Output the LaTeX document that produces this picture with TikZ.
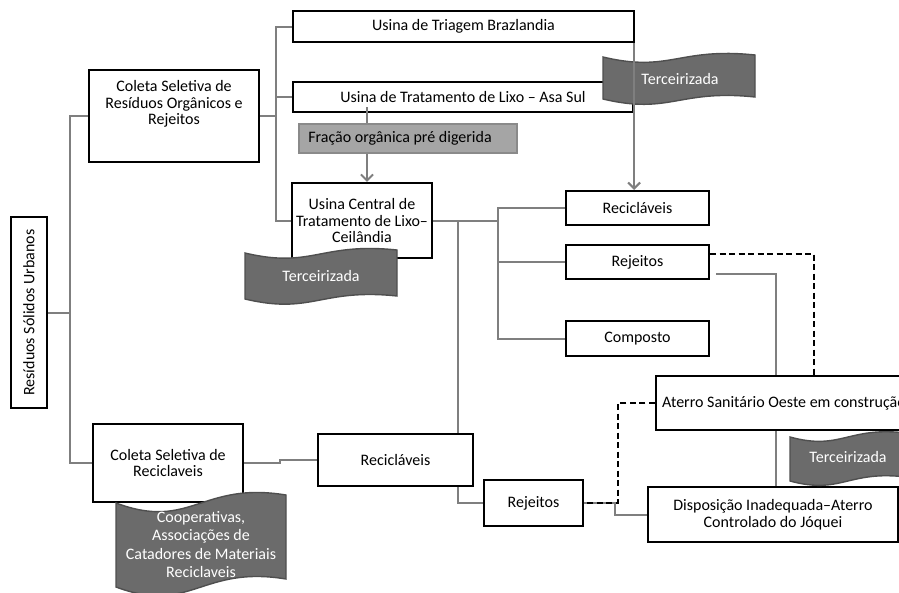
\documentclass[tikz,border=0pt]{standalone}
\usepackage{fontspec}
\usepackage{graphicx}
\setmainfont{Carlito}
\usetikzlibrary{arrows.meta,backgrounds,calc}
\definecolor{conngray}{HTML}{7F7F7F}
\definecolor{bannerfill}{HTML}{6B6B6B}
\definecolor{bannerline}{HTML}{4F4F4F}
\definecolor{fracfill}{HTML}{A5A5A5}
\definecolor{fracline}{HTML}{8A8A8A}
\newcommand\mainfnt{\fontsize{16}{16.5}\selectfont}
% x0, x1, y top-left, y top-right, height, bend
\newcommand{\wavebanner}[6]{%
  \pgfmathsetmacro\wA{#1+0.44*(#2-#1)}%
  \pgfmathsetmacro\wB{#1+0.5*(#2-#1)}%
  \pgfmathsetmacro\cTa{#3+#6}%
  \pgfmathsetmacro\cTb{#4-0.5*#6}%
  \pgfmathsetmacro\yRB{#4+#5}%
  \pgfmathsetmacro\yLB{#3+#5}%
  \pgfmathsetmacro\cBa{#3+#5+#6}%
  \pgfmathsetmacro\cBb{#4+#5-0.5*#6}%
  \draw[banner] (#1,#3) .. controls (\wA,\cTa) and (\wB,\cTb) .. (#2,#4) -- (#2,\yRB) .. controls (\wB,\cBb) and (\wA,\cBa) .. (#1,\yLB) -- cycle;}
\tikzset{
  box/.style={draw=black,line width=2.2pt,fill=white,inner sep=0pt,align=center,font=\mainfnt},
  txt/.style={inner sep=0pt,align=center,font=\mainfnt},
  btxt/.style={inner sep=0pt,align=center,font=\mainfnt,text=white},
  frac/.style={draw=fracline,line width=1.2pt,fill=fracfill,inner sep=0pt},
  banner/.style={draw=bannerline,line width=1.4pt,fill=bannerfill},
  conn/.style={draw=conngray,line width=2pt},
  arr/.style={conn,-{Straight Barb[length=6pt,width=12pt,line width=2pt]}},
  dashline/.style={draw=black,line width=2pt,dash pattern=on 6pt off 3.5pt}
}
\begin{document}
\begin{tikzpicture}[x=1pt,y=-1pt]
\useasboundingbox (0,0) rectangle (899,592);

% boxes
\node[box,minimum width=36pt,minimum height=191pt] (rsu) at (29,312.5) {\rotatebox{90}{Resíduos Sólidos Urbanos}};
\node[box,minimum width=170pt,minimum height=92pt] (c1) at (174,116) {};
\node[txt] (c1t) at (174,104) {Coleta Seletiva de\\Resíduos Orgânicos e\\Rejeitos};
\node[box,minimum width=341pt,minimum height=31pt] (trg) at (463.5,26.5) {Usina de Triagem Brazlandia};
\node[box,minimum width=340pt,minimum height=30pt] (trt) at (463,97) {Usina de Tratamento de Lixo – Asa Sul};
\node[frac,minimum width=218pt,minimum height=29pt] (fr) at (408,138.5) {};
\node[txt] (frt) at (400,138.5) {Fração orgânica pré digerida};
\node[box,minimum width=140pt,minimum height=75pt] (cen) at (362,220.5) {Usina Central de\\Tratamento de Lixo–\\Ceilândia};
\node[box,minimum width=143pt,minimum height=34pt] (rec1) at (637.5,208) {Recicláveis};
\node[box,minimum width=143pt,minimum height=34pt] (rej1) at (637.5,262) {Rejeitos};
\node[box,minimum width=143pt,minimum height=35pt] (comp) at (637.5,338.5) {Composto};
\node[box,minimum width=302pt,minimum height=54pt] (ater) at (807,403) {};
\node[txt,anchor=west] (atert) at (662,403) {Aterro Sanitário Oeste em construção};
\node[box,minimum width=250pt,minimum height=55pt] (disp) at (773,514.5) {Disposição Inadequada–Aterro\\Controlado do Jóquei};
\node[box,minimum width=99pt,minimum height=46pt] (rej2) at (533.5,503) {Rejeitos};
\node[box,minimum width=155pt,minimum height=52pt] (rec2) at (395.5,460) {Recicláveis};
\node[box,minimum width=150pt,minimum height=78pt] (c2) at (168,463) {Coleta Seletiva de\\Reciclaveis};

% junction coordinates
\coordinate (bus1) at (70,313);
\coordinate (bus2) at (276,116);
\coordinate (bus3) at (498,220.5);
\coordinate (bus4) at (458,0);
\coordinate (bus5) at (280,460);
\coordinate (frx) at (367,0);
\coordinate (dashx) at (814,0);
\coordinate (g1) at (776,0);
\coordinate (g2) at (615,514.5);
\coordinate (d2) at (618,503);

\begin{scope}[on background layer]
  \draw[conn] (rsu.east |- bus1) -- (bus1);
  \draw[conn] (c1.west) -| (bus1);
  \draw[conn] (c2.west) -| (bus1);
  \draw[conn] (c1.east) -- (bus2);
  \draw[conn] (trg.west) -| (bus2);
  \draw[conn] (trt.west) -| (bus2);
  \draw[conn] (cen.west) -| (bus2);
  \draw[conn] (cen.east) -- (bus3);
  \draw[conn] (rec1.west) -| (bus3);
  \draw[conn] (rej1.west) -| (bus3);
  \draw[conn] (comp.west) -| (bus3);
  \draw[conn] (cen.east -| bus4) -- (rec2.north -| bus4);
  \draw[conn] (rec2.south -| bus4) |- (rej2.west);
  \draw[conn] (c2.east) -| (bus5) |- (rec2.west);
  \draw[conn] ([shift={(6pt,-12pt)}]rej1.east) -| (g1 |- ater.north);
  \draw[conn] (g1 |- ater.south) -- (g1 |- disp.north);
  \draw[conn] (rej2.east) -| (g2) -- (disp.west);
  \draw[dashline] ([yshift=8pt]rej1.east) -| (dashx |- ater.north);
  \draw[dashline] (ater.west) -| (d2) -- (rej2.east);
\end{scope}

% banners
\wavebanner{603}{755}{57}{55}{42}{16}
\node[btxt] (b1) at (680,79) {Terceirizada};
\wavebanner{245}{397}{253}{250}{46}{16}
\node[btxt] (b2) at (321,276) {Terceirizada};
\wavebanner{790}{906}{437}{433}{44}{14}
\node[btxt] (b3) at (848,457) {Terceirizada};
\wavebanner{116}{286}{503}{495}{84}{28}
\node[btxt,font=\fontsize{16}{18.5}\selectfont] (b4) at (201,544.5) {Cooperativas,\\Associações de\\Catadores de Materiais\\Reciclaveis};

% arrows on top
\draw[arr] ([xshift=-1pt]trg.south east) -- ([xshift=-1pt]trg.south east |- rec1.north);
\draw[conn] ([yshift=6pt]trt.south -| frx) -- (fr.north -| frx);
\draw[arr] (fr.south -| frx) -- (cen.north -| frx);
\end{tikzpicture}
\end{document}
